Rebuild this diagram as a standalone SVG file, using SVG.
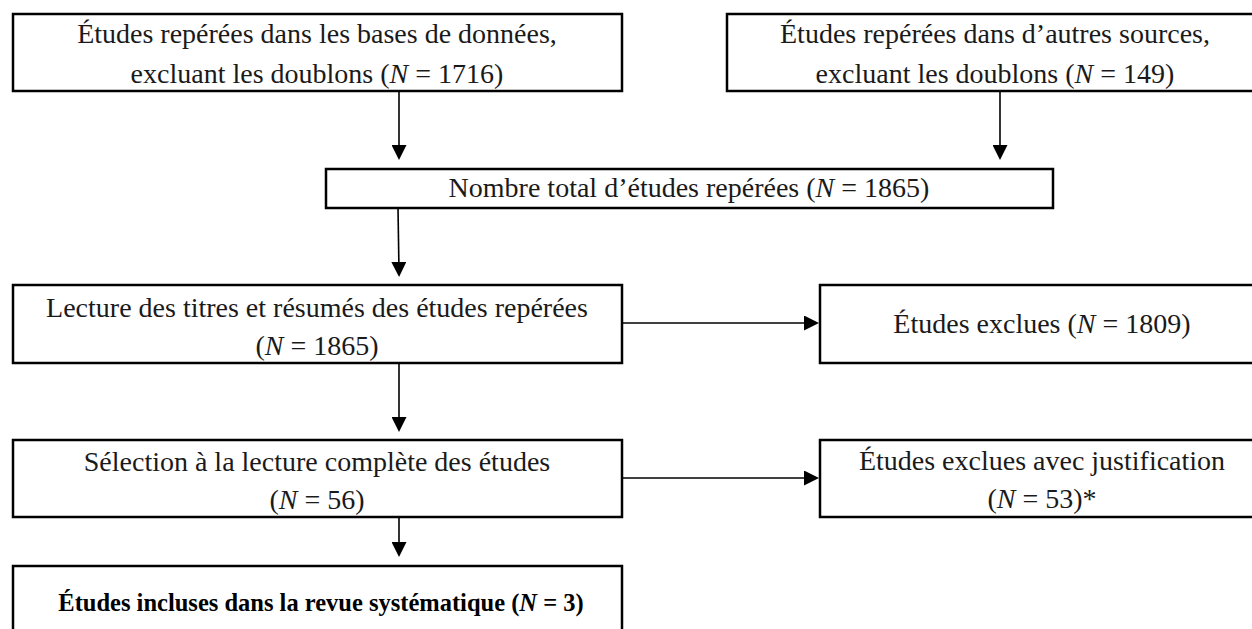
<svg xmlns="http://www.w3.org/2000/svg" width="1252" height="629" viewBox="0 0 1252 629">
<defs>
<marker id="arr" viewBox="0 0 15 15" refX="10" refY="7.5" markerWidth="15" markerHeight="15" markerUnits="userSpaceOnUse" orient="auto">
<path d="M0,0 L15,7.5 L0,15 z" fill="#000"/>
</marker>
<style>
.box{fill:#fff;stroke:#000;stroke-width:2.5}
.t{font-family:"Liberation Serif","Times New Roman",serif;font-size:28px;fill:#1a1a1a;text-anchor:middle}
.b{font-weight:bold;fill:#000;font-size:24.5px}
.i{font-style:italic}
.c{stroke:#000;stroke-width:1.6;fill:none;marker-end:url(#arr)}
</style>
</defs>
<rect width="1252" height="629" fill="#fff"/>
<g id="connectors">
<line class="c" x1="399" y1="91" x2="399" y2="155"/>
<line class="c" x1="1000" y1="91" x2="1000" y2="155"/>
<line class="c" x1="398" y1="208" x2="399" y2="272"/>
<line class="c" x1="399" y1="363" x2="399" y2="427"/>
<line class="c" x1="399" y1="517" x2="399" y2="552"/>
<line class="c" x1="622" y1="323" x2="814" y2="323"/>
<line class="c" x1="622" y1="478" x2="814" y2="478"/>
</g>
<g id="n1">
<rect class="box" x="13" y="14" width="609" height="77"/>
<text class="t" x="317" y="43">Études repérées dans les bases de données,</text>
<text class="t" x="317" y="83">excluant les doublons (<tspan class="i">N</tspan> = 1716)</text>
</g>
<g id="n2">
<rect class="box" x="727" y="14" width="540" height="77"/>
<text class="t" x="995" y="43">Études repérées dans d’autres sources,</text>
<text class="t" x="995" y="83">excluant les doublons (<tspan class="i">N</tspan> = 149)</text>
</g>
<g id="n3">
<rect class="box" x="326" y="169" width="727" height="39"/>
<text class="t" x="689" y="197">Nombre total d’études repérées (<tspan class="i">N</tspan> = 1865)</text>
</g>
<g id="n4">
<rect class="box" x="13" y="285" width="609" height="78"/>
<text class="t" x="317" y="317">Lecture des titres et résumés des études repérées</text>
<text class="t" x="317" y="355">(<tspan class="i">N</tspan> = 1865)</text>
</g>
<g id="n5">
<rect class="box" x="820" y="285" width="450" height="78"/>
<text class="t" x="1042" y="333">Études exclues (<tspan class="i">N</tspan> = 1809)</text>
</g>
<g id="n6">
<rect class="box" x="13" y="440" width="609" height="77"/>
<text class="t" x="317" y="471">Sélection à la lecture complète des études</text>
<text class="t" x="317" y="509">(<tspan class="i">N</tspan> = 56)</text>
</g>
<g id="n7">
<rect class="box" x="820" y="440" width="450" height="77"/>
<text class="t" x="1042" y="470">Études exclues avec justification</text>
<text class="t" x="1042" y="508">(<tspan class="i">N</tspan> = 53)*</text>
</g>
<g id="n8">
<rect class="box" x="13" y="566" width="609" height="80"/>
<text class="t b" x="321" y="611">Études incluses dans la revue systématique (<tspan class="i">N</tspan> = 3)</text>
</g>
</svg>
